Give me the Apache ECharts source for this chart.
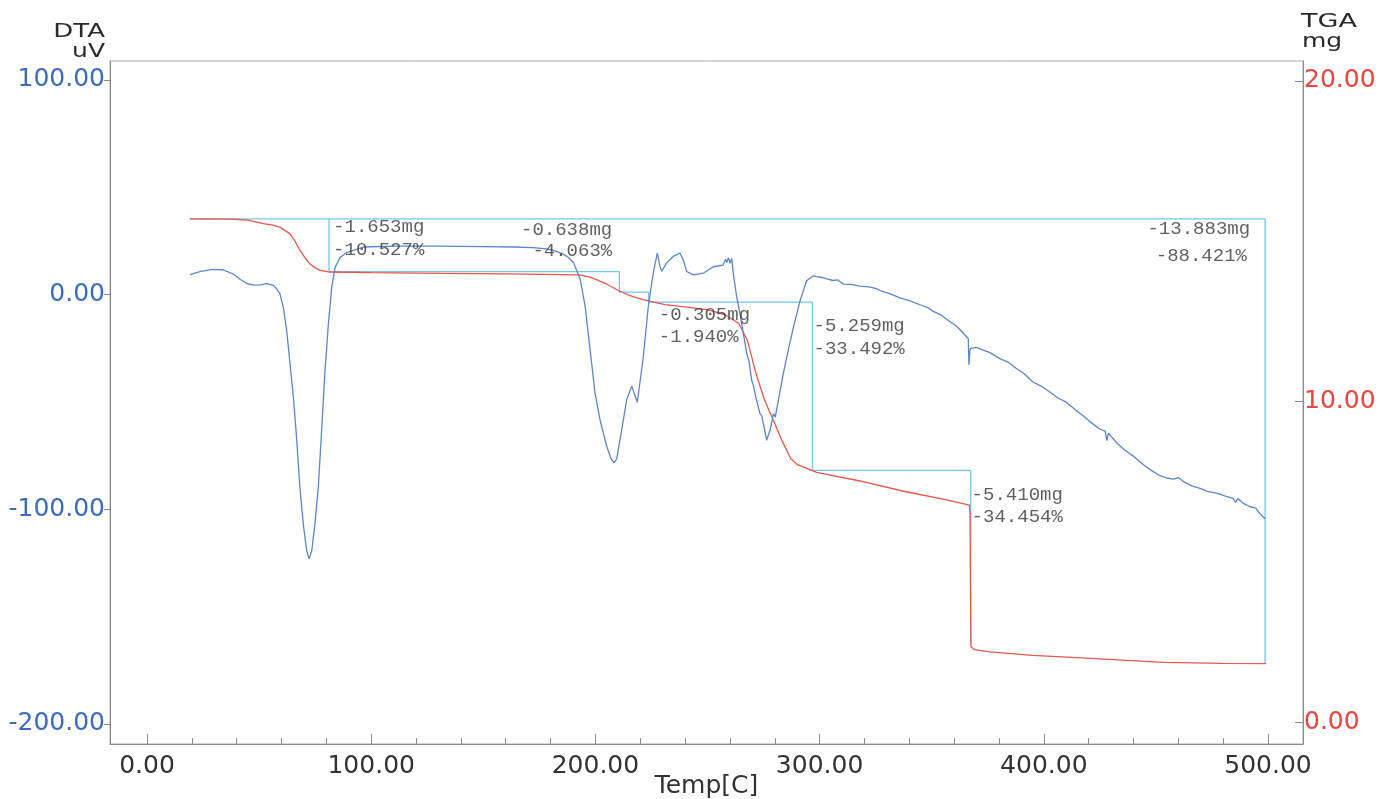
<!DOCTYPE html>
<html>
<head>
<meta charset="utf-8">
<script src="https://cdn.jsdelivr.net/npm/echarts@6/dist/echarts.min.js"></script>
<style>
html,body{margin:0;padding:0;background:#fff;}
#chart{width:1380px;height:799px;}
</style>
</head>
<body>
<div id="chart"></div>
<script>
// ---- DTA curve (Temp [C], uV)
var dtaTemp = [19.2,24,29.6,34.1,38.5,41.5,44.5,47.4,50.5,53.4,56.4,58.0,59.3,60.8,62.3,63.8,65.3,66.8,68.2,69.7,71.2,72.3,73.5,74.9,76.4,77.9,79.4,80.9,82.4,83.9,86.1,89.1,96.5,110,130,150,163.4,172,178.3,182,185.7,188,190.2,193.2,195.4,197.6,199.8,202.0,205.0,207,208.3,209.5,211.0,214.0,216.2,218.7,221.4,223.6,225.8,227.6,228.8,229.6,231.8,234.7,237.7,239.2,240.7,243.7,248.1,252.6,257.0,258.0,258.6,259.3,260.1,260.8,261.5,263.0,264.5,266.0,267.5,268.5,269.7,270.5,271.9,273.4,274.2,274.9,275.7,276.4,277.1,277.9,279.4,280.2,281.6,283.8,286.0,288.3,291.3,294.2,297.2,298.7,301,303.2,306,308,310.6,314,318.0,322,325,327.7,331,335.8,340,344.7,348,350.7,354,358.1,361,364.1,366.3,366.6,367.0,367.4,370,373.0,376,380.4,384,387.9,391,395.3,399,402.8,406,410.2,414,417.6,421,425.1,427.4,428.1,428.8,432.5,436,439.9,444,447.4,451,454.8,458,460,462.2,466,469.7,473,477.1,481,484.5,485.5,486.5,489,492.0,494.5,496.4,498.7];
var dtaValue = [9.3,10.8,11.8,11.5,9.6,7.2,5.2,4.4,4.6,5.1,4.3,2.5,0.4,-5.8,-16.7,-32.2,-47.8,-67.9,-89.7,-106.8,-119.2,-123.1,-119.2,-106.8,-89.8,-63.3,-35.4,-13.7,3.4,12.7,17.3,19.6,22.2,22.6,22.6,22.4,22.2,21.9,21.3,20.4,18.9,17.3,15.0,7.2,-5.2,-25.4,-45.6,-58.0,-70.5,-76.5,-78.4,-76.5,-67.4,-48.8,-42.6,-50.1,-28.7,-5.4,10.1,19.4,13.2,10.9,14.8,17.8,19.4,16.2,10.8,9.2,10.0,13.0,13.8,16.5,15.0,17.2,14.6,16.9,9.9,-1.0,-8.8,-18.1,-27.4,-31.0,-39.9,-42.5,-49.2,-55.4,-56.5,-60.1,-64,-67.9,-65.5,-63.2,-55.4,-57.0,-49.3,-36.8,-26.0,-15.2,-2.8,6.5,8.8,8.4,8.0,7.3,6.6,6.9,4.9,4.8,4.0,3.6,2.9,1.6,0.6,-1.5,-2.8,-4.7,-5.9,-7.8,-9.4,-12.5,-14.6,-18.0,-20.4,-32.8,-26,-25.0,-24.6,-25.8,-27.0,-29.8,-31.4,-34.5,-36.6,-40.8,-42.7,-45.5,-47.9,-50.2,-53.6,-56.4,-59.5,-62.7,-63.6,-68.0,-64.5,-69.0,-72.4,-75.2,-78.9,-81.5,-83.9,-85.4,-85.9,-85.2,-87.0,-89.1,-90.2,-91.6,-92.5,-93.8,-94.9,-96.8,-95.0,-97.2,-98.8,-99.4,-102.0,-104.4];

// ---- TGA curve (Temp [C], mg)
var tgaTemp = [19.2,37,45,51.9,55.5,59.3,63.8,66,68.2,70.5,72.7,75,77.2,81.6,100,130,160,193.1,197.6,201,205.1,211,216,221.2,231,240,250.2,258,263.9,267.8,271.6,275.5,279.4,283.2,287.1,290,292.9,298.7,318,337.4,356.7,366.8,367.1,367.3,367.5,369,376,395,414.7,453.4,480,499.1];
var tgaMass = [15.70,15.69,15.66,15.55,15.51,15.44,15.23,15.0,14.72,14.48,14.29,14.17,14.09,14.04,14.02,14.00,13.98,13.95,13.88,13.79,13.66,13.44,13.29,13.18,13.02,12.95,12.86,12.70,12.44,11.91,10.88,10.03,9.41,8.78,8.22,8.03,7.95,7.79,7.52,7.20,6.93,6.77,6.5,4.0,2.35,2.26,2.19,2.08,2.01,1.86,1.83,1.82];

// ---- step-analysis lines (Temp [C], mg); null breaks the path
var stepTemp = [19.2,498.7,498.7,null,81.2,81.2,210.7,210.7,223.7,223.7,296.8,296.8,367.4,367.4];
var stepMass = [15.70,15.70,1.82,null,15.70,14.05,14.05,13.41,13.41,13.10,13.10,7.85,7.85,2.44];

// ---- step annotations
var annoText = ['-1.653mg','-10.527%','-0.638mg','-4.063%','-0.305mg','-1.940%','-5.259mg','-33.492%','-5.410mg','-34.454%','-13.883mg','-88.421%'];
var annoTemp = [83.0,83.0,207.5,207.5,228.3,228.3,297.3,297.3,367.8,367.8,492.0,490.6];
var annoMass = [15.46,14.74,15.36,14.71,12.71,12.00,12.37,11.64,7.08,6.40,15.38,14.55];
var annoAlign = ['left','left','right','right','left','left','left','left','left','left','right','right'];

// ---- ticks
var xMajorTicks = [0,100,200,300,400,500];
var xMinorTicks = [20,40,60,80,120,140,160,180,220,240,260,280,320,340,360,380,420,440,460,480];
var dtaTicks = [-200,-100,0,100];
var tgaTicks = [0,10,20];

function zip(a,b){var r=[];for(var i=0;i<a.length;i++){r.push([a[i],b[i]]);}return r;}
function splitPaths(a,b){var paths=[],cur=[];for(var i=0;i<a.length;i++){if(a[i]===null){paths.push(cur);cur=[];}else cur.push([a[i],b[i]]);}paths.push(cur);return paths;}

var chart = echarts.init(document.getElementById('chart'));
var FONT = 'DejaVu Sans';
var stepSeries = splitPaths(stepTemp, stepMass).map(function(p){
  return {type:'line', xAxisIndex:0, yAxisIndex:1, data:p, showSymbol:false, symbol:'none',
    lineStyle:{color:'#74c6ea', width:1.3}, z:2, silent:true};
});
var annoData = annoText.map(function(t,i){
  return {value:[annoTemp[i], annoMass[i]], name:t, label:{align:annoAlign[i]}};
});

var option = {
  animation:false,
  backgroundColor:'#ffffff',
  grid:{left:110, right:77, top:61, bottom:55, show:true, borderColor:'#a8a8a8', borderWidth:1,
    backgroundColor:'transparent', containLabel:false, outerBoundsMode:'none'},
  xAxis:[{
    type:'value', min:-16.5, max:515.6, position:'bottom',
    axisLine:{show:true, onZero:false, lineStyle:{color:'#8a8a8a'}},
    axisTick:{show:true, inside:true, length:10, customValues:xMajorTicks, lineStyle:{color:'#8a8a8a'}},
    axisLabel:{customValues:xMajorTicks, margin:10, color:'#333', fontFamily:FONT, fontSize:25,
      formatter:function(v){return v.toFixed(2);}},
    splitLine:{show:false},
    name:'Temp[C]', nameLocation:'middle', nameGap:30, nameMoveOverlap:false,
    nameTextStyle:{color:'#333', fontFamily:FONT, fontSize:25}
  },{
    type:'value', min:-16.5, max:515.6, position:'bottom',
    axisLine:{show:false, onZero:false},
    axisTick:{show:true, inside:true, length:6, customValues:xMinorTicks, lineStyle:{color:'#8a8a8a'}},
    axisLabel:{show:false},
    splitLine:{show:false}
  }],
  yAxis:[{
    type:'value', min:-209.32, max:108.85, position:'left',
    axisLine:{show:true, onZero:false, lineStyle:{color:'#8a8a8a'}},
    axisTick:{show:true, inside:false, length:6, customValues:dtaTicks, lineStyle:{color:'#8a8a8a'}},
    axisLabel:{customValues:dtaTicks, margin:5, color:'#3d6cbf', fontFamily:FONT, fontSize:25,
      formatter:function(v){return v.toFixed(2);}},
    splitLine:{show:false}
  },{
    type:'value', min:-0.686, max:20.624, position:'right',
    axisLine:{show:true, onZero:false, lineStyle:{color:'#8a8a8a'}},
    axisTick:{show:true, inside:true, length:8, customValues:tgaTicks, lineStyle:{color:'#8a8a8a'}},
    axisLabel:{customValues:tgaTicks, margin:1, color:'#e6463f', fontFamily:FONT, fontSize:25,
      formatter:function(v){return v.toFixed(2);}},
    splitLine:{show:false}
  }],
  graphic:[
    {type:'text', right:1380-105, top:22, style:{text:'DTA', fill:'#2a2a2a', font:'20px "DejaVu Sans"', textAlign:'right'}, scaleX:1.3, originX:105},
    {type:'text', right:1380-105, top:42, style:{text:'uV', fill:'#2a2a2a', font:'20px "DejaVu Sans"', textAlign:'right'}, scaleX:1.25, originX:105},
    {type:'text', left:1301, top:12, style:{text:'TGA', fill:'#2a2a2a', font:'20px "DejaVu Sans"'}, scaleX:1.35},
    {type:'text', left:1302, top:32, style:{text:'mg', fill:'#2a2a2a', font:'20px "DejaVu Sans"'}, scaleX:1.25}
  ],
  series: stepSeries.concat([
    {type:'line', name:'TGA', xAxisIndex:0, yAxisIndex:1, data:zip(tgaTemp,tgaMass), showSymbol:false, symbol:'none',
      lineStyle:{color:'#e6574d', width:1.3}, z:3, silent:true},
    {type:'line', name:'DTA', xAxisIndex:0, yAxisIndex:0, data:zip(dtaTemp,dtaValue), showSymbol:false, symbol:'none',
      lineStyle:{color:'#5b86cb', width:1.3}, z:4, silent:true},
    {type:'scatter', xAxisIndex:0, yAxisIndex:1, data:annoData, symbolSize:0, z:5, silent:true,
      label:{show:true, position:[0,0], verticalAlign:'middle', color:'#383838',
        fontFamily:'Liberation Mono', fontSize:19,
        formatter:function(p){return p.name;}}}
  ])
};
chart.setOption(option);
</script>
</body>
</html>
